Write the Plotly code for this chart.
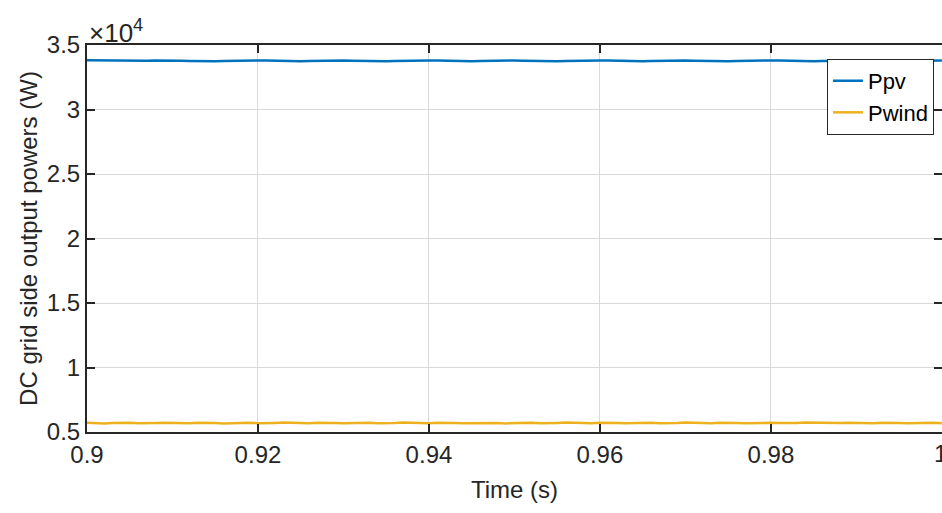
import plotly.graph_objects as go

# Time samples (s)
time = [round(0.9 + i * 0.001, 3) for i in range(101)]

# PV power (W)
p_pv = [
    33810, 33800, 33785, 33762, 33745, 33738, 33748, 33770, 33792, 33806,
    33804, 33788, 33768, 33750, 33742, 33746, 33762, 33782, 33800, 33812,
    33808, 33794, 33774, 33756, 33744, 33740, 33754, 33774, 33794, 33808,
    33804, 33786, 33766, 33750, 33741, 33746, 33764, 33784, 33800, 33811,
    33806, 33790, 33770, 33752, 33743, 33742, 33758, 33778, 33797, 33809,
    33805, 33788, 33768, 33751, 33742, 33745, 33762, 33781, 33799, 33810,
    33807, 33791, 33771, 33753, 33744, 33741, 33756, 33776, 33795, 33808,
    33803, 33787, 33767, 33750, 33742, 33747, 33764, 33784, 33801, 33812,
    33806, 33789, 33769, 33752, 33743, 33743, 33759, 33779, 33797, 33809,
    33805, 33788, 33768, 33751, 33741, 33746, 33763, 33783, 33800, 33810,
    33806,
]

# Wind power (W)
p_wind = [
    5720, 5690, 5668, 5700, 5728, 5712, 5680, 5672, 5706, 5726,
    5702, 5674, 5684, 5716, 5724, 5692, 5668, 5696, 5727, 5714,
    5682, 5670, 5704, 5728, 5706, 5676, 5680, 5712, 5725, 5696,
    5670, 5690, 5722, 5718, 5686, 5669, 5700, 5727, 5710, 5678,
    5674, 5708, 5726, 5700, 5672, 5686, 5718, 5722, 5690, 5668,
    5697, 5726, 5712, 5680, 5671, 5705, 5728, 5704, 5675, 5682,
    5714, 5724, 5694, 5669, 5692, 5723, 5716, 5684, 5670, 5702,
    5727, 5708, 5677, 5678, 5710, 5726, 5698, 5671, 5688, 5720,
    5720, 5688, 5668, 5698, 5727, 5712, 5681, 5673, 5706, 5725,
    5702, 5674, 5685, 5716, 5723, 5692, 5669, 5696, 5726, 5714,
    5684,
]

y_tickvals = [5000, 10000, 15000, 20000, 25000, 30000, 35000]
y_ticktext = ["0.5", "1", "1.5", "2", "2.5", "3", "3.5"]
x_tickvals = [0.9, 0.92, 0.94, 0.96, 0.98, 1.0]
x_ticktext = ["0.9", "0.92", "0.94", "0.96", "0.98", "1"]

font_family = "Liberation Sans, Arial, sans-serif"
txt = "#262626"

fig = go.Figure()
fig.add_trace(go.Scatter(x=time, y=p_pv, mode="lines", name="Ppv",
                         line=dict(color="#0072BD", width=2.5)))
fig.add_trace(go.Scatter(x=time, y=p_wind, mode="lines", name="Pwind",
                         line=dict(color="#EDB120", width=2.5)))

fig.update_layout(
    width=942, height=513,
    margin=dict(l=87, r=0, t=45, b=81),
    paper_bgcolor="white", plot_bgcolor="white",
    font=dict(family=font_family, size=24, color=txt),
    showlegend=True,
    legend=dict(
        x=0.9906, y=0.964, xanchor="right", yanchor="top",
        bgcolor="white", bordercolor="#262626", borderwidth=1,
        font=dict(size=22, color="#000000"),
        tracegroupgap=0, itemwidth=30,
    ),
    xaxis=dict(
        range=[0.9, 1.00001], tickvals=x_tickvals, ticktext=x_ticktext,
        showgrid=True, gridcolor="#d9d9d9", gridwidth=1,
        showline=True, linecolor="#262626", linewidth=2, mirror="ticks",
        ticks="inside", ticklen=8, tickwidth=2, tickcolor="#262626",
        tickfont=dict(size=24, color=txt), zeroline=False,
        title=dict(text="Time (s)", font=dict(size=24, color=txt), standoff=14),
        automargin=False,
    ),
    yaxis=dict(
        range=[5000, 35000], tickvals=y_tickvals, ticktext=y_ticktext,
        showgrid=True, gridcolor="#d9d9d9", gridwidth=1,
        showline=True, linecolor="#262626", linewidth=2, mirror="ticks",
        ticks="inside", ticklen=8, tickwidth=2, tickcolor="#262626",
        tickfont=dict(size=24, color=txt), zeroline=False,
        title=dict(text="DC grid side output powers (W)", font=dict(size=24, color=txt), standoff=2),
        automargin=False,
    ),
)

fig.add_annotation(
    x=0, y=1, xref="paper", yref="paper", xanchor="left", yanchor="bottom",
    text="×10<sup>4</sup>", showarrow=False, yshift=-5,
    font=dict(size=26, color=txt, family=font_family),
)

# last x tick label (clipped at the right edge, as in the reference)
fig.add_annotation(
    x=x_tickvals[-1], y=0, xref="x", yref="paper", xanchor="center", yanchor="top",
    text=x_ticktext[-1], showarrow=False, yshift=-6, xshift=-1,
    font=dict(size=24, color=txt, family=font_family),
)

fig.write_html("out.html")
